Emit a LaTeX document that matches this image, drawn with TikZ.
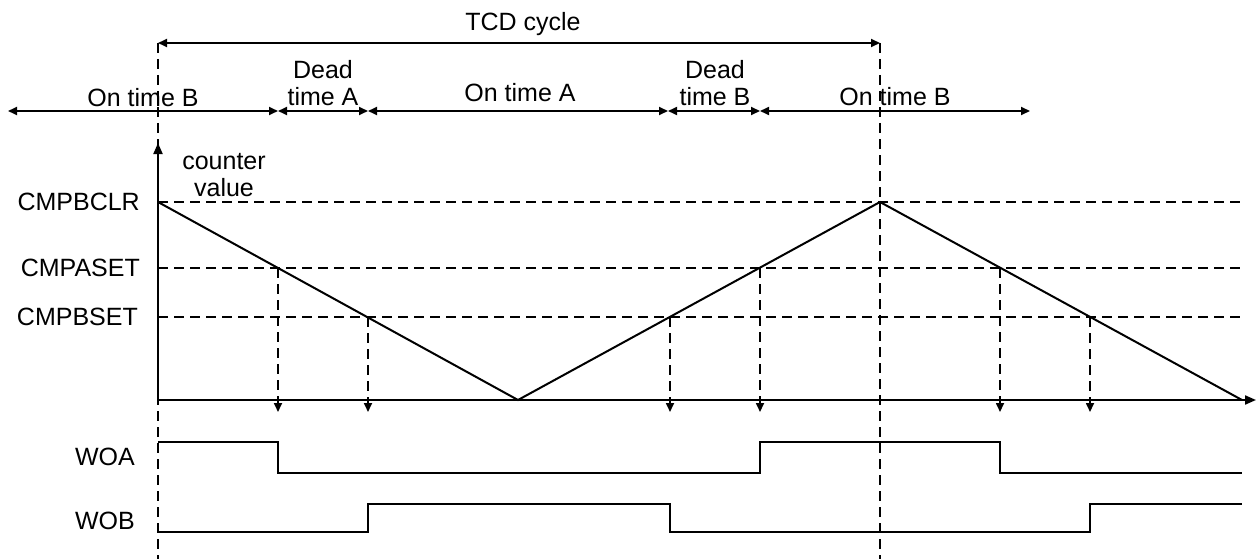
\documentclass[tikz,border=0pt]{standalone}
\usepackage{fontspec}
\setmainfont{Liberation Sans}
\usetikzlibrary{arrows.meta}
\begin{document}
\begin{tikzpicture}[
  x=1pt, y=-1pt,
  font=\fontsize{25}{27}\selectfont,
  guide/.style={draw=black, line width=1.7pt, dash pattern=on 10pt off 6pt},
  span/.style={{Triangle[length=9pt, width=8pt]}-{Triangle[length=9pt, width=8pt]}, draw=black, line width=1.7pt},
  drop/.style={guide, -{Triangle[length=9pt, width=8pt]}},
  axis/.style={-{Triangle[length=11pt, width=9pt]}, draw=black, line width=2pt},
  wave/.style={draw=black, line width=2pt},
  lbl/.style={inner sep=0pt, align=center}
]
\useasboundingbox (0,0) rectangle (1257,559);
% cycle marks
\coordinate (top0) at (158,43);
\coordinate (top1) at (880,43);
\coordinate (bot0) at (158,559);
\coordinate (bot1) at (880,559);
\draw[guide, line width=1.4pt] (top0) -- (bot0);
\draw[guide, line width=1.4pt] (top1) -- (bot1);
\draw[span] (top0) -- (top1);
\node[lbl] (tcd) at (523,24) {TCD cycle};
% on / dead time spans
\coordinate (s0) at (8,111);
\coordinate (s1) at (278,111);
\coordinate (s2) at (368,111);
\coordinate (s3) at (668,111);
\coordinate (s4) at (760,111);
\coordinate (s5) at (1030,111);
\draw[span] (s0) -- (s1);
\draw[span] (s1) -- (s2);
\draw[span] (s2) -- (s3);
\draw[span] (s3) -- (s4);
\draw[span] (s4) -- (s5);
\node[lbl] (onb0) at (143,98) {On time B};
\node[lbl] (deada) at (323,83) {Dead\\time A};
\node[lbl] (ona) at (520,93) {On time A};
\node[lbl] (deadb) at (715,83) {Dead\\time B};
\node[lbl] (onb1) at (895,97) {On time B};
% counter
\coordinate (org) at (158,400);
\coordinate (ytop) at (158,143);
\coordinate (xend) at (1256,400);
\draw[axis] (org) -- (ytop);
\draw[axis] (org) -- (xend);
\node[lbl] (cnt) at (224,175) {counter\\value};
\node[lbl, anchor=east] (clr) at (140,202) {CMPBCLR};
\node[lbl, anchor=east] (aset) at (140,268) {CMPASET};
\node[lbl, anchor=east] (bset) at (138,317) {CMPBSET};
\coordinate (clrR) at (1242,202);
\coordinate (asetL) at (158,268);
\coordinate (asetR) at (1242,268);
\coordinate (bsetL) at (158,317);
\coordinate (bsetR) at (1242,317);
\draw[guide] (158,202) -- (clrR);
\draw[guide] (asetL) -- (asetR);
\draw[guide] (bsetL) -- (bsetR);
\coordinate (pk0) at (158,202);
\coordinate (vl0) at (518,400);
\coordinate (pk1) at (880,202);
\coordinate (vl1) at (1242,400);
\draw[wave] (pk0) -- (vl0) -- (pk1) -- (vl1);
% compare events
\coordinate (e1) at (278,268);
\coordinate (e2) at (368,317);
\coordinate (e3) at (670,317);
\coordinate (e4) at (760,268);
\coordinate (e5) at (1000,268);
\coordinate (e6) at (1090,317);
\draw[drop] (e1) -- (278,412);
\draw[drop] (e2) -- (368,412);
\draw[drop] (e3) -- (670,412);
\draw[drop] (e4) -- (760,412);
\draw[drop] (e5) -- (1000,412);
\draw[drop] (e6) -- (1090,412);
% outputs
\node[lbl, anchor=east] (woa) at (135,457) {WOA};
\node[lbl, anchor=east] (wob) at (135,521) {WOB};
\draw[wave] (158,442) -- (278,442) -- (278,473) -- (760,473) -- (760,442)
  -- (1000,442) -- (1000,473) -- (1242,473);
\draw[wave] (158,532) -- (368,532) -- (368,504) -- (670,504) -- (670,532)
  -- (1090,532) -- (1090,504) -- (1242,504);
\end{tikzpicture}
\end{document}
